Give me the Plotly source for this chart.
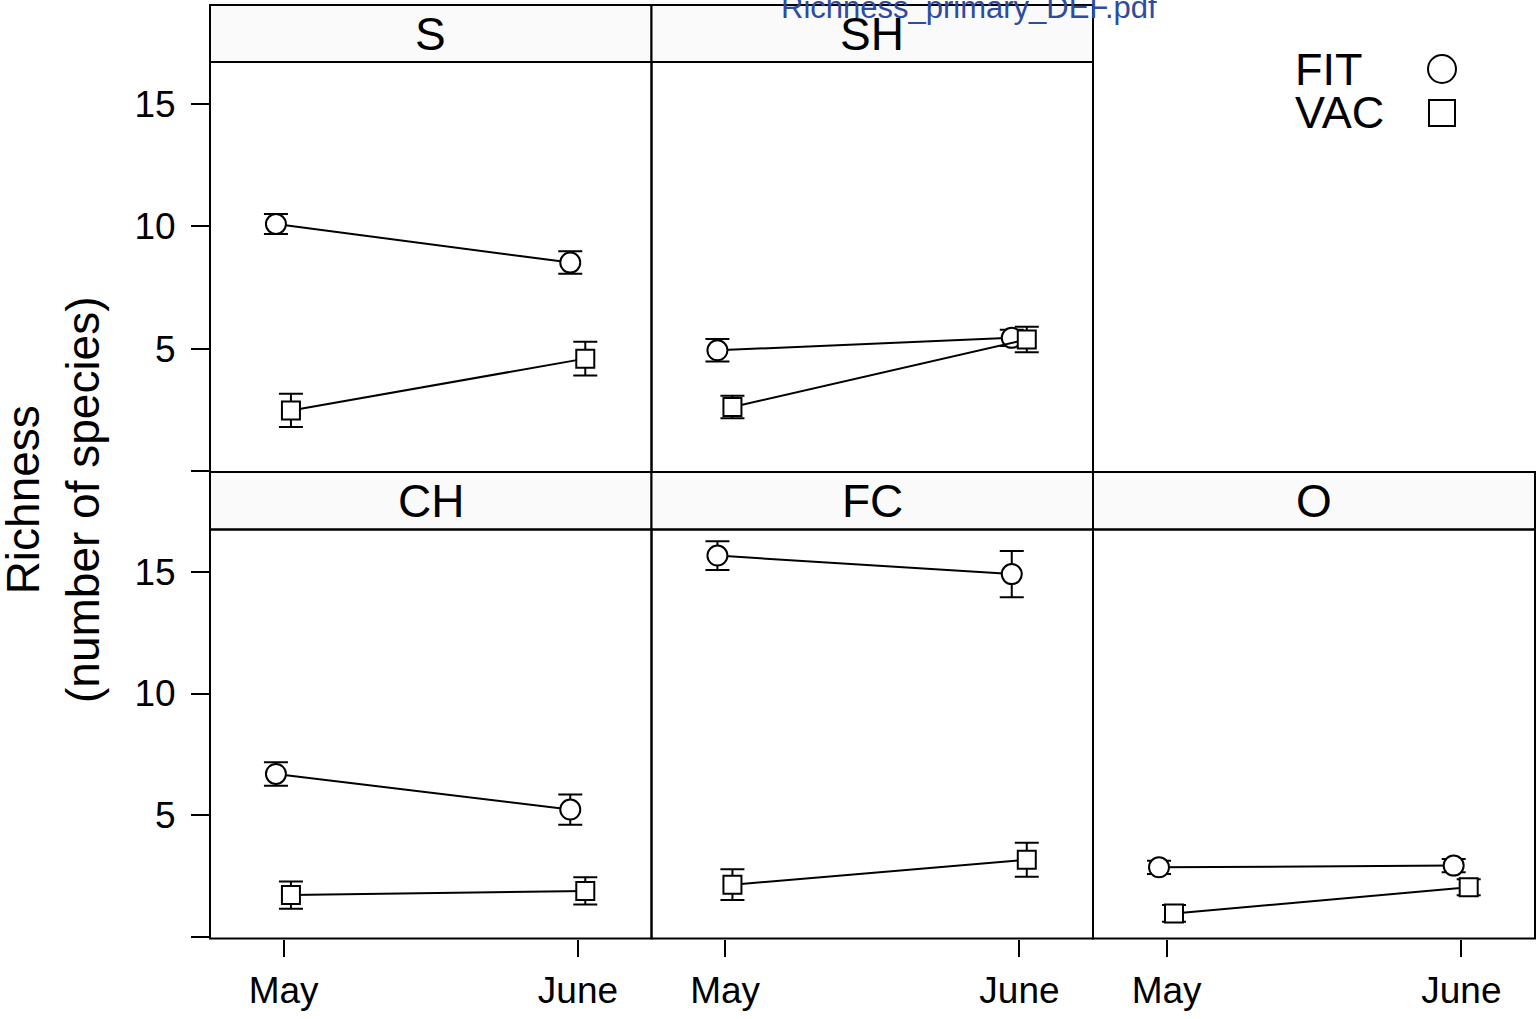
import plotly.graph_objects as go

# ---------------- data ----------------
panels = ["S", "SH", "CH", "FC", "O"]
months = ["May", "June"]
groups = ["FIT", "VAC"]

fit_mean = [[10.10, 8.52], [4.93, 5.44], [6.70, 5.24], [15.66, 14.90], [2.87, 2.94]]
fit_se = [[0.41, 0.46], [0.46, 0.33], [0.48, 0.62], [0.59, 0.95], [0.27, 0.27]]
vac_mean = [[2.47, 4.59], [2.61, 5.37], [1.73, 1.90], [2.16, 3.18], [0.98, 2.05]]
vac_se = [[0.68, 0.69], [0.46, 0.52], [0.56, 0.56], [0.63, 0.70], [0.34, 0.33]]

y_tickvals = [0, 5, 10, 15]
y_ticktext = ["", "5", "10", "15"]

# ---------------- layout geometry (pixels) ----------------
W, H = 1538, 1019
FONT = "Liberation Sans, Arial, sans-serif"
col_px = [(210, 651.5), (651.5, 1093), (1093, 1535)]
row_px = [(62, 472), (529.5, 938.5)]
strip_px = [(5, 62), (472, 529.5)]
cell = {"S": (0, 0), "SH": (0, 1), "CH": (1, 0), "FC": (1, 1), "O": (1, 2)}
dodge = {"FIT": -0.026, "VAC": 0.025}
symbols = {"FIT": ("circle", 20), "VAC": ("square", 18)}


def fx(p):
    return p / W


def fy(p):
    return 1 - p / H


fig = go.Figure()
layout_axes = {}
shapes = []
annotations = []

for i, name in enumerate(panels):
    r, c = cell[name]
    sfx = "" if i == 0 else str(i + 1)
    xa, ya = "x" + sfx, "y" + sfx
    series = {"FIT": (fit_mean[i], fit_se[i]), "VAC": (vac_mean[i], vac_se[i])}
    for g in groups:
        m, se = series[g]
        sym, size = symbols[g]
        fig.add_trace(go.Scatter(
            x=[k + 1 + dodge[g] for k in range(len(months))],
            y=m,
            mode="lines+markers",
            line=dict(color="black", width=2),
            marker=dict(symbol=sym, size=size, color="white",
                        line=dict(color="black", width=2)),
            error_y=dict(type="data", array=se, visible=True,
                         color="black", thickness=2, width=12),
            xaxis=xa, yaxis=ya, showlegend=False, name=g,
        ))
    x0, x1 = col_px[c]
    y0, y1 = row_px[r]
    layout_axes["xaxis" + sfx] = dict(
        domain=[fx(x0), fx(x1)], range=[0.75, 2.25], anchor=ya,
        showline=False, showgrid=False, zeroline=False,
        tickvals=[1, 2], ticktext=months,
        ticks="outside" if r == 1 else "", showticklabels=(r == 1),
        ticklen=17, tickwidth=2, tickcolor="black",
        tickfont=dict(size=37, color="black", family=FONT),
        ticklabelstandoff=2,
    )
    layout_axes["yaxis" + sfx] = dict(
        domain=[fy(y1), fy(y0)], range=[-0.05, 16.73], anchor=xa,
        showline=False, showgrid=False, zeroline=False,
        tickvals=y_tickvals, ticktext=y_ticktext,
        ticks="outside" if c == 0 else "", showticklabels=(c == 0),
        ticklen=18, tickwidth=2, tickcolor="black",
        tickfont=dict(size=37, color="black", family=FONT),
        ticklabelstandoff=8,
    )
    # panel border
    shapes.append(dict(type="rect", xref="paper", yref="paper",
                       x0=fx(x0), x1=fx(x1), y0=fy(y1), y1=fy(y0),
                       fillcolor="rgba(0,0,0,0)", line=dict(color="black", width=2),
                       layer="above"))
    # strip
    s0, s1 = strip_px[r]
    shapes.append(dict(type="rect", xref="paper", yref="paper",
                       x0=fx(x0), x1=fx(x1), y0=fy(s1), y1=fy(s0),
                       fillcolor="#fafafa", line=dict(color="black", width=2),
                       layer="below"))
    annotations.append(dict(text=name, xref="paper", yref="paper",
                            x=fx((x0 + x1) / 2), y=fy((s0 + s1) / 2),
                            xanchor="center", yanchor="middle", showarrow=False,
                            font=dict(size=46, color="black", family=FONT)))

# legend (manual, top-right empty cell)
leg_y = {"FIT": 70, "VAC": 113}
for g in groups:
    annotations.append(dict(text=g, xref="paper", yref="paper",
                            x=fx(1293), y=fy(leg_y[g]), xanchor="left", yanchor="middle",
                            showarrow=False, font=dict(size=45, color="black", family=FONT)))
shapes.append(dict(type="circle", xref="paper", yref="paper",
                   x0=fx(1442 - 14), x1=fx(1442 + 14), y0=fy(69 + 14), y1=fy(69 - 14),
                   fillcolor="white", line=dict(color="black", width=2)))
shapes.append(dict(type="rect", xref="paper", yref="paper",
                   x0=fx(1442 - 13), x1=fx(1442 + 13), y0=fy(113 + 13), y1=fy(113 - 13),
                   fillcolor="white", line=dict(color="black", width=2)))

# y-axis title
annotations.append(dict(text="Richness<br>(number of species)", xref="paper", yref="paper",
                        x=fx(53), y=fy(500), xanchor="center", yanchor="middle",
                        textangle=-90, showarrow=False, align="center",
                        font=dict(size=46, color="black", family=FONT)))

# file name link text (clipped at top)
annotations.append(dict(text="Richness_primary_DEF.pdf", xref="paper", yref="paper",
                        x=fx(969), y=fy(27), xanchor="center", yanchor="bottom",
                        showarrow=False,
                        font=dict(size=31, color="#2d4b9f", family=FONT)))

fig.update_layout(
    width=W, height=H,
    margin=dict(l=0, r=0, t=0, b=0),
    paper_bgcolor="white", plot_bgcolor="white",
    shapes=shapes, annotations=annotations,
    showlegend=False,
    **layout_axes,
)

fig.write_html("out.html",
               config={"displayModeBar": False},
               post_script="document.body.style.margin='0';document.body.style.overflow='hidden';")
